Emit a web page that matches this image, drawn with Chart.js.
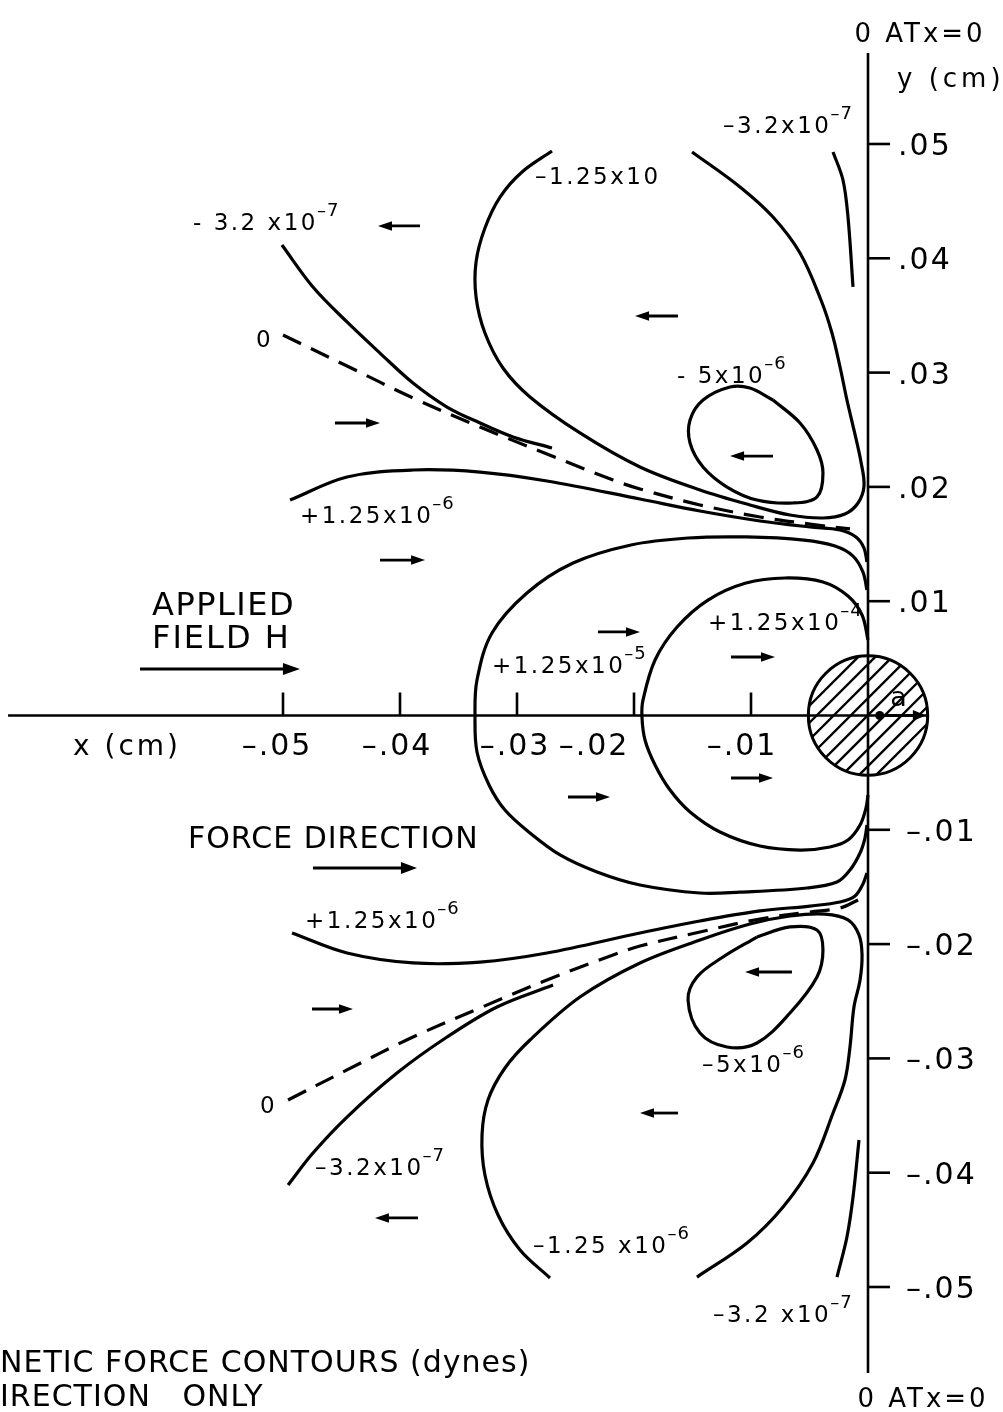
<!DOCTYPE html>
<html>
<head>
<meta charset="utf-8">
<script src="https://cdn.jsdelivr.net/npm/chart.js@4"></script>
<style>
  html, body { margin: 0; padding: 0; background: #fff; }
  canvas { display: block; }
</style>
</head>
<body>
<canvas id="chart" width="1003" height="1412"></canvas>
<script>
// Force contours around a small sphere (radius a) in an applied field, x and y in cm.

// axis ticks
const xTicks = [-0.05, -0.04, -0.03, -0.02, -0.01];
const xTickLabels = ['–.05', '–.04', '–.03', '–.02', '–.01'];
const yTicks = [0.05, 0.04, 0.03, 0.02, 0.01, -0.01, -0.02, -0.03, -0.04, -0.05];
const yTickLabels = ['.05', '.04', '.03', '.02', '.01', '–.01', '–.02', '–.03', '–.04', '–.05'];

// sphere radius (cm)
const sphereRadius = 0.0051;

// upper half contours, [x, y] in cm
const negA_upper = [ // -1.25e-6
  [-0.02701, 0.04939], [-0.02957, 0.04755], [-0.03145, 0.04536], [-0.03274, 0.04265], [-0.0335, 0.03968],
  [-0.0335, 0.03661], [-0.03274, 0.03346], [-0.0312, 0.0304], [-0.02889, 0.02787], [-0.02462, 0.02472],
  [-0.01949, 0.02174], [-0.01436, 0.01973], [-0.01009, 0.01842], [-0.00667, 0.01754], [-0.00385, 0.01728],
  [-0.00197, 0.01763], [-0.00085, 0.01859], [-0.00034, 0.02008], [-0.0006, 0.02218], [-0.0012, 0.02498],
  [-0.0018, 0.0276], [-0.00239, 0.03049], [-0.00308, 0.03346], [-0.00402, 0.03635], [-0.00581, 0.04046],
  [-0.00812, 0.04361], [-0.01094, 0.04624], [-0.01504, 0.0493]
];
const negB_upper = [ // -5e-6
  [-0.00812, 0.0276], [-0.01009, 0.02865], [-0.01179, 0.02874], [-0.0141, 0.0276], [-0.01521, 0.02585],
  [-0.01521, 0.02384], [-0.0141, 0.02174], [-0.01205, 0.01999], [-0.00949, 0.01885], [-0.00641, 0.01859],
  [-0.00436, 0.01912], [-0.00385, 0.02122], [-0.00436, 0.02323], [-0.00581, 0.02559], [-0.00812, 0.0276]
];
const negC_upperLeft = [ // -3.2e-7
  [-0.05009, 0.04116], [-0.04744, 0.03749], [-0.04453, 0.03443], [-0.04171, 0.03171], [-0.03889, 0.02909],
  [-0.03598, 0.02699], [-0.03316, 0.02559], [-0.03034, 0.02437], [-0.02701, 0.0234]
];
const negC_upperRight = [ // -3.2e-7
  [-0.00299, 0.0493], [-0.00214, 0.04685], [-0.00171, 0.04361], [-0.00128, 0.03749]
];
const zero_upper = [
  [-0.05, 0.03329], [-0.04453, 0.03058], [-0.03889, 0.02778], [-0.03316, 0.02524], [-0.02744, 0.02288],
  [-0.02179, 0.0206], [-0.01949, 0.01982], [-0.01436, 0.01842], [-0.00923, 0.01737], [-0.00496, 0.01675],
  [-0.00154, 0.01632]
];
const posA_upper = [ // +1.25e-6
  [-0.0494, 0.01885], [-0.04453, 0.02087], [-0.03889, 0.02148], [-0.03316, 0.0213], [-0.02744, 0.02052],
  [-0.01949, 0.01894], [-0.01436, 0.01789], [-0.00923, 0.01702], [-0.00496, 0.01649], [-0.00239, 0.01623],
  [-0.00103, 0.01562], [-0.00034, 0.01465], [-0.00009, 0.01343]
];

// loops that cross the x axis
const posB = [ // +1.25e-5
  [-0.00009, 0.01098], [-0.00043, 0.01255], [-0.00128, 0.01395], [-0.00282, 0.01483], [-0.00547, 0.01535],
  [-0.01043, 0.01562], [-0.01538, 0.01553], [-0.02026, 0.01492], [-0.02521, 0.01334], [-0.02915, 0.01072],
  [-0.03214, 0.00722], [-0.03342, 0.00311], [-0.03359, -0.00004], [-0.03342, -0.00319], [-0.03239, -0.00608],
  [-0.03103, -0.00827], [-0.02889, -0.01028], [-0.02632, -0.0122], [-0.02316, -0.01369], [-0.01949, -0.01483],
  [-0.01436, -0.01553], [-0.01094, -0.01545], [-0.00521, -0.01509], [-0.00265, -0.01457], [-0.00154, -0.01352],
  [-0.00068, -0.01203], [-0.00026, -0.01072], [-0.00009, -0.00958]
];
const posC = [ // +1.25e-4
  [0, 0.00661], [-0.00051, 0.00879], [-0.00171, 0.01045], [-0.00385, 0.01168], [-0.00709, 0.01203],
  [-0.01043, 0.01159], [-0.01368, 0.0101], [-0.01632, 0.00774], [-0.0182, 0.00486], [-0.01923, 0.00136],
  [-0.01932, -0.00013], [-0.01906, -0.00214], [-0.0182, -0.00433], [-0.01692, -0.00652], [-0.01521, -0.00844],
  [-0.01265, -0.01019], [-0.00923, -0.01142], [-0.00581, -0.01177], [-0.00325, -0.0115], [-0.00171, -0.01089],
  [-0.00068, -0.00958], [-0.00017, -0.00809], [0, -0.00696]
];

// lower half contours
const posA_lower = [ // +1.25e-6
  [-0.04923, -0.01903], [-0.04453, -0.02078], [-0.03889, -0.02165], [-0.03316, -0.02157], [-0.02744, -0.02078],
  [-0.01949, -0.01903], [-0.01436, -0.01798], [-0.00923, -0.0171], [-0.00496, -0.01667], [-0.00239, -0.01632],
  [-0.00111, -0.01579], [-0.00043, -0.01474], [-0.00009, -0.01378]
];
const zero_lower = [
  [-0.04957, -0.03364], [-0.04453, -0.03101], [-0.03889, -0.02813], [-0.03316, -0.02559], [-0.02744, -0.02314],
  [-0.02179, -0.02095], [-0.01949, -0.02017], [-0.01436, -0.01894], [-0.00923, -0.0178], [-0.00496, -0.01719],
  [-0.00239, -0.01684], [-0.00085, -0.01614]
];
const negC_lowerLeft = [ // -3.2e-7
  [-0.04957, -0.04108], [-0.04744, -0.03828], [-0.04453, -0.03513], [-0.04026, -0.03128], [-0.03598, -0.02813],
  [-0.03171, -0.0255], [-0.02692, -0.02358]
];
const negA_lower = [ // -1.25e-6
  [-0.02718, -0.04921], [-0.02974, -0.04676], [-0.03162, -0.0437], [-0.03274, -0.0402], [-0.03299, -0.0367],
  [-0.03248, -0.03364], [-0.03103, -0.03084], [-0.02889, -0.02839], [-0.02462, -0.02463], [-0.01949, -0.02165],
  [-0.01436, -0.01964], [-0.01009, -0.01824], [-0.00667, -0.01754], [-0.00368, -0.01737], [-0.00171, -0.01789],
  [-0.00077, -0.0192], [-0.00051, -0.02095], [-0.00068, -0.02314], [-0.0012, -0.0255], [-0.00154, -0.029],
  [-0.00197, -0.03189], [-0.00299, -0.03478], [-0.0047, -0.03915], [-0.00726, -0.043], [-0.01034, -0.04615],
  [-0.01462, -0.04913]
];
const negB_lower = [ // -5e-6
  [-0.00949, -0.01938], [-0.00667, -0.0185], [-0.00436, -0.01877], [-0.00385, -0.02052], [-0.00436, -0.02288],
  [-0.00667, -0.02603], [-0.00949, -0.02865], [-0.01205, -0.029], [-0.01436, -0.02778], [-0.01538, -0.02489],
  [-0.01462, -0.02288], [-0.01239, -0.02113], [-0.00949, -0.01938]
];
const negC_lowerRight = [ // -3.2e-7
  [-0.00077, -0.03714], [-0.00128, -0.04213], [-0.0018, -0.04563], [-0.00265, -0.04913]
];

// force direction arrows: [tail x, head x, y]
const forceArrows = [
  [-0.03829, -0.04188, 0.04283], [-0.01624, -0.01991, 0.03495], [-0.00812, -0.01179, 0.0227],
  [-0.04556, -0.04171, 0.02559], [-0.04171, -0.03786, 0.0136], [-0.02308, -0.01949, 0.00731],
  [-0.01171, -0.00795, 0.00512], [-0.02564, -0.02205, -0.00713], [-0.01171, -0.00812, -0.00547],
  [-0.04752, -0.04402, -0.02568], [-0.0065, -0.01051, -0.02244], [-0.01624, -0.01949, -0.03478],
  [-0.03846, -0.04214, -0.04396]
];
const fieldArrow = [-0.06222, -0.04855, 0.00407];
const legendArrow = [-0.04744, -0.03855, -0.01334];

// contour value labels: text, exponent, left/baseline in cm
const contourLabels = [
  { t: '–3.2x10', e: '–7', x: -0.01239, y: 0.05096 },
  { t: '–1.25x10', e: '', x: -0.02846, y: 0.0465 },
  { t: '- 3.2 x10', e: '–7', x: -0.05769, y: 0.04248 },
  { t: '0', e: '', x: -0.05231, y: 0.03224 },
  { t: '- 5x10', e: '–6', x: -0.01632, y: 0.02909 },
  { t: '+1.25x10', e: '–6', x: -0.04855, y: 0.01684 },
  { t: '+1.25x10', e: '–5', x: -0.03214, y: 0.00372 },
  { t: '+1.25x10', e: '–4', x: -0.01368, y: 0.00748 },
  { t: '+1.25x10', e: '–6', x: -0.04812, y: -0.01859 },
  { t: '0', e: '', x: -0.05197, y: -0.03478 },
  { t: '–3.2x10', e: '–7', x: -0.04726, y: -0.0402 },
  { t: '–5x10', e: '–6', x: -0.01419, y: -0.03119 },
  { t: '–1.25 x10', e: '–6', x: -0.02863, y: -0.04703 },
  { t: '–3.2 x10', e: '–7', x: -0.01325, y: -0.05306 }
];

const FONT = '"DejaVu Sans", sans-serif';
const xTickShift = [-6, -3, -2, -40, -9];

const line = (pts, dashed) => ({
  data: pts.map(([x, y]) => ({ x, y })),
  showLine: true,
  borderColor: '#000',
  borderWidth: 3.2,
  borderDash: dashed ? [20, 11] : [],
  pointRadius: 0,
  tension: 0.35,
  fill: false,
});

function text(ctx, str, x, y, size, align = 'left', spacing = 0) {
  ctx.font = `${size}px ${FONT}`;
  ctx.letterSpacing = spacing + 'px';
  ctx.textAlign = align;
  ctx.textBaseline = 'alphabetic';
  ctx.fillText(str, x, y);
  const w = ctx.measureText(str).width;
  ctx.letterSpacing = '0px';
  return w;
}

function arrow(ctx, x1, x2, yy, head = 14, half = 4.8) {
  const dir = Math.sign(x2 - x1);
  ctx.lineWidth = 2.8;
  ctx.beginPath(); ctx.moveTo(x1, yy); ctx.lineTo(x2 - dir * head * 0.6, yy); ctx.stroke();
  ctx.beginPath();
  ctx.moveTo(x2, yy);
  ctx.lineTo(x2 - dir * head, yy - half);
  ctx.lineTo(x2 - dir * head, yy + half);
  ctx.closePath(); ctx.fill();
}

const figurePlugin = {
  id: 'figure',
  beforeDraw(chart) {
    const { ctx, width, height } = chart;
    ctx.save(); ctx.fillStyle = '#fff'; ctx.fillRect(0, 0, width, height); ctx.restore();
  },
  afterDatasetsDraw(chart) {
    const { ctx, scales: { x, y } } = chart;
    const px = v => x.getPixelForValue(v), py = v => y.getPixelForValue(v);
    const cx = px(0), cy = py(0), r = px(sphereRadius) - px(0);
    ctx.save();
    ctx.strokeStyle = '#000'; ctx.fillStyle = '#000'; ctx.lineCap = 'butt';

    // hatched sphere
    ctx.save();
    ctx.beginPath(); ctx.arc(cx, cy, r, 0, Math.PI * 2);
    ctx.fillStyle = '#fff'; ctx.fill(); ctx.clip();
    ctx.lineWidth = 2.4;
    for (let k = -2 * r; k <= 2 * r; k += 17) {
      ctx.beginPath(); ctx.moveTo(cx + k - r, cy + r); ctx.lineTo(cx + k + r, cy - r); ctx.stroke();
    }
    ctx.restore();
    ctx.lineWidth = 3;
    ctx.beginPath(); ctx.arc(cx, cy, r, 0, Math.PI * 2); ctx.stroke();

    // axes
    ctx.lineWidth = 2.6;
    ctx.beginPath(); ctx.moveTo(px(-0.0735), cy); ctx.lineTo(cx + r, cy); ctx.stroke();
    ctx.beginPath(); ctx.moveTo(cx, py(0.05796)); ctx.lineTo(cx, py(-0.05752)); ctx.stroke();
    xTicks.forEach((v, i) => {
      ctx.beginPath(); ctx.moveTo(px(v), cy); ctx.lineTo(px(v), cy - 23); ctx.stroke();
      text(ctx, xTickLabels[i], px(v) + xTickShift[i], cy + 40, 30, 'center', 2);
    });
    yTicks.forEach((v, i) => {
      ctx.beginPath(); ctx.moveTo(cx, py(v)); ctx.lineTo(cx + 22, py(v)); ctx.stroke();
      text(ctx, yTickLabels[i], cx + (v < 0 ? 38 : 30), py(v) + 11, 30, 'left', 2);
    });

    // radius arrow
    ctx.beginPath(); ctx.arc(px(0.001), cy, 4.5, 0, Math.PI * 2); ctx.fill();
    arrow(ctx, px(0.001), px(sphereRadius * 0.97), cy, 13, 5.5);
    text(ctx, 'a', px(0.0019), cy - 9, 27);

    // force arrows
    forceArrows.forEach(([a, b, yy]) => arrow(ctx, px(a), px(b), py(yy)));
    arrow(ctx, px(fieldArrow[0]), px(fieldArrow[1]), py(fieldArrow[2]), 17, 6);
    arrow(ctx, px(legendArrow[0]), px(legendArrow[1]), py(legendArrow[2]), 16, 6);

    // contour labels
    contourLabels.forEach(l => {
      const w = text(ctx, l.t, px(l.x), py(l.y), 23, 'left', 2.5);
      if (l.e) text(ctx, l.e, px(l.x) + w - 1, py(l.y) - 14, 18, 'left', 1);
    });

    // annotations
    text(ctx, '0 ATx=0', cx + 52, 42, 26, 'center', 3);
    text(ctx, 'y (cm)', cx + 29, 87, 26, 'left', 4);
    text(ctx, '0 ATx=0', cx + 55, 1407, 26, 'center', 3);
    text(ctx, 'x (cm)', 73, cy + 40, 28, 'left', 3);
    text(ctx, 'APPLIED', 152, 615, 32, 'left', 1.5);
    text(ctx, 'FIELD H', 152, 648, 32, 'left', 2);
    text(ctx, 'FORCE DIRECTION', 188, 848, 30, 'left', 1);
    text(ctx, 'NETIC FORCE CONTOURS (dynes)', 0, 1372, 30, 'left', 1);
    text(ctx, 'IRECTION   ONLY', 0, 1406, 30, 'left', 1);
    ctx.restore();
  }
};

new Chart(document.getElementById('chart'), {
  type: 'scatter',
  data: {
    datasets: [
      line(negA_upper), line(negB_upper), line(negC_upperLeft), line(negC_upperRight),
      line(zero_upper, true), line(posA_upper), line(posB), line(posC),
      line(posA_lower), line(zero_lower, true), line(negC_lowerLeft), line(negA_lower),
      line(negB_lower), line(negC_lowerRight),
    ],
  },
  options: {
    responsive: false,
    animation: false,
    layout: { padding: 0 },
    plugins: { legend: { display: false }, tooltip: { enabled: false } },
    scales: {
      x: { type: 'linear', min: -0.074188, max: 0.011538, display: false },
      y: { type: 'linear', min: -0.060936, max: 0.062598, display: false },
    },
  },
  plugins: [figurePlugin],
});
</script>
</body>
</html>
